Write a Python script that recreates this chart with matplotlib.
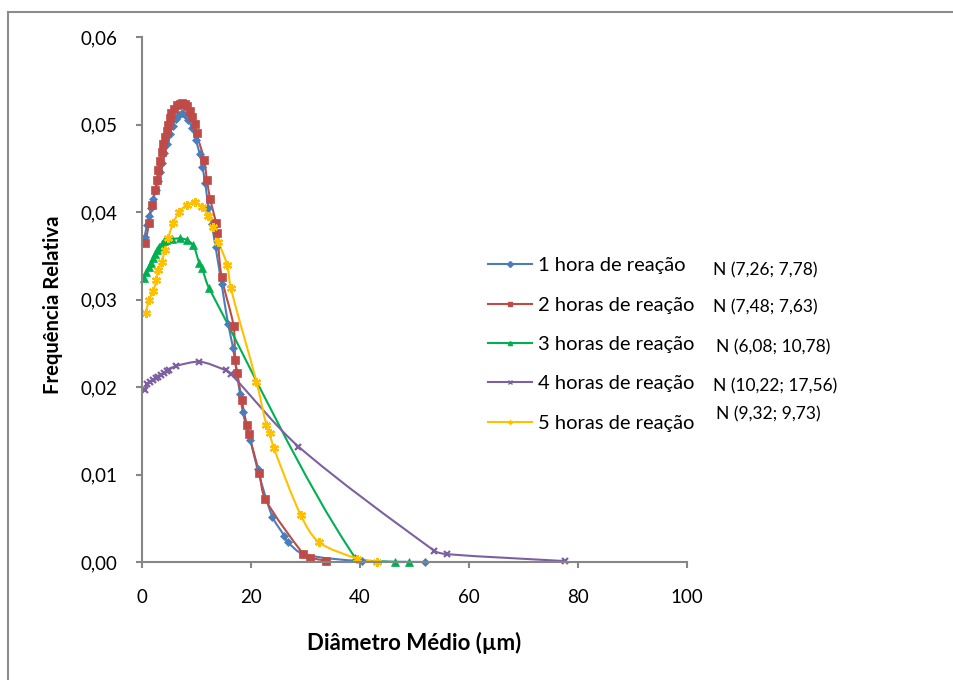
import numpy as np
import matplotlib
matplotlib.use('Agg')
import matplotlib.pyplot as plt
from matplotlib.path import Path
from matplotlib.patches import PathPatch
from matplotlib.lines import Line2D
from matplotlib.ticker import FuncFormatter

plt.rcParams['font.family'] = ['Lato', 'DejaVu Sans']

# 1 hora de reacao
x1 = [0.5, 0.9, 1.3, 1.7, 2.1, 2.5, 2.9, 3.3, 3.7, 4.1, 4.6, 5.1, 5.6, 6.2, 6.8, 7.3,
      7.9, 8.5, 9.2, 9.9, 10.6, 11.1, 11.6, 12.2, 12.8, 13.5, 14.6, 15.8, 16.7, 17.4,
      18.0, 18.5, 19.9, 21.2, 23.9, 26.1, 26.7, 29.6, 40.3, 51.9]
y1 = [0.0372, 0.0385, 0.0395, 0.0405, 0.0415, 0.0425, 0.0436, 0.0446, 0.0456, 0.0467,
      0.0478, 0.0489, 0.0498, 0.0506, 0.0511, 0.0513, 0.0511, 0.0505, 0.0496, 0.0482,
      0.0466, 0.0451, 0.0433, 0.0405, 0.0386, 0.0360, 0.0318, 0.0272, 0.0245, 0.0215,
      0.0192, 0.0171, 0.0139, 0.0106, 0.0052, 0.0030, 0.0023, 0.0009, 0.0001, 0.0]
# 2 horas
x2 = [0.6, 1.3, 1.8, 2.4, 2.7, 3.0, 3.3, 3.6, 3.9, 4.2, 4.5, 4.8, 5.1, 5.4, 5.9, 6.4,
      6.9, 7.3, 7.8, 8.2, 8.8, 9.2, 9.7, 10.0, 11.4, 11.9, 12.5, 13.6, 13.8, 14.6, 16.8,
      17.1, 17.5, 18.3, 19.2, 19.6, 21.5, 22.6, 29.6, 30.8, 33.8]
y2 = [0.0365, 0.0387, 0.0408, 0.0425, 0.0437, 0.0448, 0.0458, 0.0469, 0.0478, 0.0486,
      0.0493, 0.0500, 0.0507, 0.0513, 0.0518, 0.0522, 0.0524, 0.0525, 0.0524, 0.0521,
      0.0515, 0.0509, 0.0501, 0.0490, 0.0460, 0.0437, 0.0415, 0.0387, 0.0376, 0.0326,
      0.0270, 0.0231, 0.0216, 0.0185, 0.0157, 0.0146, 0.0102, 0.0072, 0.0009, 0.0005,
      0.00015]
# 3 horas
x3 = [0.4, 0.8, 1.2, 1.6, 2.0, 2.4, 2.8, 3.2, 3.6, 4.0, 4.4, 5.5, 7.0, 8.2, 9.4, 10.5,
      11.0, 12.3, 39.1, 46.4, 48.9]
y3 = [0.0325, 0.0331, 0.0337, 0.0342, 0.0347, 0.0352, 0.0357, 0.0360, 0.0364, 0.0367,
      0.0368, 0.0369, 0.0370, 0.0368, 0.0362, 0.0342, 0.0336, 0.0313, 0.0005, 0.0, 0.0]
# 4 horas
x4 = [0.55, 1.0, 1.5, 2.0, 2.5, 3.0, 3.5, 4.0, 4.5, 5.0, 6.2, 10.5, 15.4, 16.3, 28.7,
      53.6, 55.9, 77.7]
y4 = [0.0197, 0.0203, 0.0206, 0.0208, 0.0210, 0.0212, 0.0214, 0.0216, 0.0218, 0.0220,
      0.0224, 0.0229, 0.0219, 0.0215, 0.0132, 0.0013, 0.0009, 0.0001]
# 5 horas
x5 = [0.7, 1.3, 2.1, 2.6, 3.0, 3.6, 4.2, 4.8, 5.7, 6.8, 8.2, 9.7, 11.0, 12.2, 13.0,
      14.0, 15.6, 16.3, 21.0, 22.8, 23.4, 24.2, 29.1, 32.4, 39.4, 43.1]
y5 = [0.0285, 0.0300, 0.0310, 0.0322, 0.0334, 0.0343, 0.0357, 0.0370, 0.0387, 0.0400,
      0.0408, 0.0411, 0.0406, 0.0395, 0.0383, 0.0366, 0.0340, 0.0313, 0.0206, 0.0157,
      0.0147, 0.0130, 0.0054, 0.0023, 0.0004, 0.0]

labels = ['1 hora de reação', '2 horas de reação', '3 horas de reação',
          '4 horas de reação', '5 horas de reação']
params = ['N (7,26; 7,78)', 'N (7,48; 7,63)', 'N (6,08; 10,78)',
          'N (10,22; 17,56)', 'N (9,32; 9,73)']

series = [(x1, y1), (x2, y2), (x3, y3), (x4, y4), (x5, y5)]
colors = ['#4A7EBB', '#BE4B48', '#00B050', '#7D60A0', '#FFC000']
markers = ['D', 's', '^', 'x', (6, 2, 0)]
msizes = [4.5, 6, 5.5, 5, 6.5]


def smooth_path(ax, x, y, s=0.3):
    # excel-like smoothed line, built in pixel space so the bends look even
    P = ax.transData.transform(np.column_stack([x, y]))
    n = len(P)
    T = np.zeros_like(P)
    for k in range(n):
        a = P[max(k - 1, 0)]
        b = P[min(k + 1, n - 1)]
        v = b - a
        T[k] = v / np.hypot(*v)
    verts = [P[0]]
    codes = [Path.MOVETO]
    for k in range(n - 1):
        p1, p2 = P[k], P[k + 1]
        L = np.hypot(*(p2 - p1))
        c1 = p1 + T[k] * L * s
        c2 = p2 - T[k + 1] * L * s
        lo, hi = min(p1[1], p2[1]), max(p1[1], p2[1])
        c1[1] = np.clip(c1[1], lo, hi)
        c2[1] = np.clip(c2[1], lo, hi)
        verts += [c1, c2, p2]
        codes += [Path.CURVE4] * 3
    verts = ax.transData.inverted().transform(np.array(verts))
    return Path(verts, codes)


fig = plt.figure(figsize=(9.54, 6.8), dpi=100)
ax = fig.add_axes([142 / 954, 1 - 562 / 680, 545 / 954, 525 / 680])
ax.set_xlim(0, 100)
ax.set_ylim(0, 0.06)

handles = []
for (x, y), c, m, ms, lab in zip(series, colors, markers, msizes, labels):
    ax.add_patch(PathPatch(smooth_path(ax, x, y), fill=False, edgecolor=c, lw=1.5,
                           clip_on=False))
    mew = 1.6 if m in ('x',) or isinstance(m, tuple) else 0.5
    ax.plot(x, y, linestyle='none', marker=m, ms=ms, color=c, mec=c, mew=mew,
            clip_on=False)
    handles.append(Line2D([], [], color=c, lw=1.5, marker=m, ms=3, mew=1, mec=c))

ax.set_xticks(np.arange(0, 101, 20))
ax.set_yticks(np.arange(0, 0.061, 0.01))
ax.yaxis.set_major_formatter(FuncFormatter(lambda v, p: f'{v:.2f}'.replace('.', ',')))
for s in ['top', 'right']:
    ax.spines[s].set_visible(False)
for s in ['left', 'bottom']:
    ax.spines[s].set_color('#868686')
    ax.spines[s].set_linewidth(1.5)
ax.tick_params(axis='both', color='#868686', width=1.5, length=4.5, labelsize=13.5)
ax.tick_params(axis='x', pad=15)
ax.tick_params(axis='y', pad=13)

fig.text(53 / 954, 1 - 305 / 680, 'Frequência Relativa', rotation=90, ha='center',
         va='center', fontsize=14.6, fontweight='bold')
fig.text(414 / 954, 1 - 643 / 680, 'Diâmetro Médio (µm)', ha='center', va='center',
         fontsize=16, fontweight='bold')

ax.legend(handles, labels, loc='upper left', frameon=False, fontsize=14.5,
          bbox_to_anchor=(488 / 954, 1 - 257 / 680), bbox_transform=fig.transFigure,
          borderpad=0, borderaxespad=0, handlelength=2.2, handletextpad=0.3,
          labelspacing=1.11)

n_pos = [(713, 270), (713, 307), (716, 347), (713, 386), (716, 414)]
for (px, py), t in zip(n_pos, params):
    fig.text(px / 954, 1 - py / 680, t, ha='left', va='center', fontsize=12.5)

# outer chart frame
fig.add_artist(Line2D([8 / 954, 8 / 954], [0, 1 - 12 / 680], transform=fig.transFigure,
                      color='#8c8c8c', lw=1.5))
fig.add_artist(Line2D([8 / 954, 1], [1 - 12 / 680, 1 - 12 / 680],
                      transform=fig.transFigure, color='#8c8c8c', lw=1.5))

fig.savefig('out.png', dpi=100)
